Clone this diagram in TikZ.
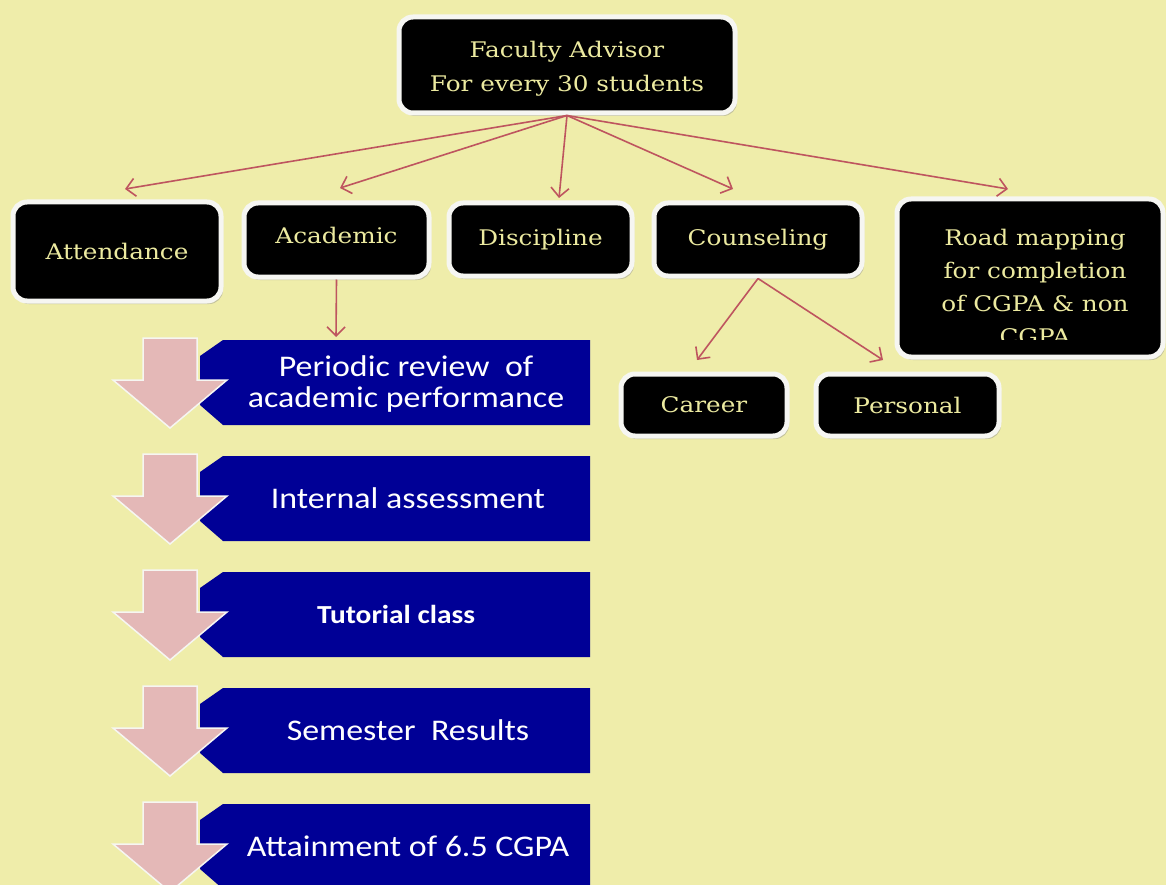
\documentclass[tikz,border=0pt]{standalone}
\usepackage{fontspec}
\usetikzlibrary{arrows.meta,shadows}
\newfontfamily\boxfont[FakeStretch=1.15]{DejaVu Serif}
\newfontfamily\bluefont[FakeStretch=1.13]{Carlito}
\definecolor{bg}{RGB}{239,237,170}
\definecolor{boxtext}{RGB}{236,234,160}
\definecolor{conncol}{RGB}{190,85,95}
\definecolor{pinkarrow}{RGB}{228,184,183}
\definecolor{bluebox}{RGB}{0,0,150}
\definecolor{rim}{RGB}{246,246,242}
\tikzset{
  bbox/.style={draw=rim, line width=5pt, fill=black, rounded corners=14pt,
    text=boxtext, font=\boxfont\fontsize{21.5}{34}\selectfont, align=center, inner sep=0pt,
    drop shadow={shadow xshift=2pt, shadow yshift=-3pt, fill=black!45, opacity=0.45}},
  conn/.style={draw=conncol, line width=1.6pt, -{Straight Barb[length=9pt,width=18pt]}},
  stepbar/.style={fill=bluebox, draw=none},
  downarrow/.style={fill=pinkarrow, draw=rim, line width=1.5pt, line join=miter},
  bluetext/.style={text=white, font=\bluefont\fontsize{30}{31}\selectfont, align=center, inner sep=0pt}
}
\begin{document}
\begin{tikzpicture}[x=1pt,y=-1pt]
\useasboundingbox[fill=bg] (0,0) rectangle (1166,885);

% top box
\node[bbox, minimum width=336pt, minimum height=96pt] (fa) at (567,65) {\rule{0pt}{24pt}Faculty Advisor\\For every 30 students};

% second row
\node[bbox, minimum width=208pt, minimum height=99pt] (att) at (117,251.5) {Attendance};
\node[bbox, minimum width=185pt, minimum height=74pt] (acad) at (336.5,240) {\rule[-10pt]{0pt}{0pt}Academic};
\node[bbox, minimum width=183pt, minimum height=73pt] (disc) at (540.5,239.5) {Discipline};
\node[bbox, minimum width=208pt, minimum height=73pt] (couns) at (758,239.5) {Counseling};
\node[bbox, minimum width=266pt, minimum height=158pt] (road) at (1030,278) {};
\begin{scope}
  \clip (898,199) rectangle (1163,339);
  \node[text=boxtext, font=\boxfont\fontsize{21.5}{33}\selectfont, align=center, inner sep=0pt] (roadtxt) at (1035,286.5)
    {Road mapping\\for completion\\of CGPA \& non\\CGPA};
\end{scope}

% third row
\node[bbox, minimum width=166pt, minimum height=62pt] (career) at (704,405) {Career};
\node[bbox, minimum width=183pt, minimum height=62pt] (pers) at (907.5,405) {Personal};

% arrow targets
\coordinate (attin) at (125,189);
\coordinate (acadin) at (340,188);
\coordinate (discin) at (559,198);
\coordinate (counsin) at (733,189);
\coordinate (roadin) at (1008,189);
\coordinate (carin) at (697,360);
\coordinate (persin) at (883,360);
\coordinate (stepin) at (336,337);

\draw[conn] (fa.south) -- (attin);
\draw[conn] (fa.south) -- (acadin);
\draw[conn] (fa.south) -- (discin);
\draw[conn] (fa.south) -- (counsin);
\draw[conn] (fa.south) -- (roadin);
\draw[conn] (couns.south) -- (carin);
\draw[conn] (couns.south) -- (persin);
\draw[conn] (acad.south) -- (stepin);

% vertical step list
\foreach \T in {340,456,572,688,804} {
  \fill[bluebox] (223,\T) -- (590,\T) -- (590,\T+85) -- (223,\T+85) -- (200,\T+65) -- (200,\T+16) -- cycle;
  \draw[downarrow] (143,\T-2) -- (197,\T-2) -- (197,\T+40) -- (227,\T+40) -- (170,\T+88) -- (113,\T+40) -- (143,\T+40) -- cycle;
}
\node[bluetext] (s1) at (406,384) {Periodic review~ of\\academic performance};
\node[bluetext] (s2) at (408,498) {Internal assessment};
\node[bluetext, font=\bluefont\bfseries\fontsize{26}{28}\selectfont] (s3) at (396,614) {Tutorial class};
\node[bluetext] (s4) at (408,730) {Semester~ Results};
\node[bluetext] (s5) at (408,846) {Attainment of 6.5 CGPA};
\end{tikzpicture}
\end{document}
